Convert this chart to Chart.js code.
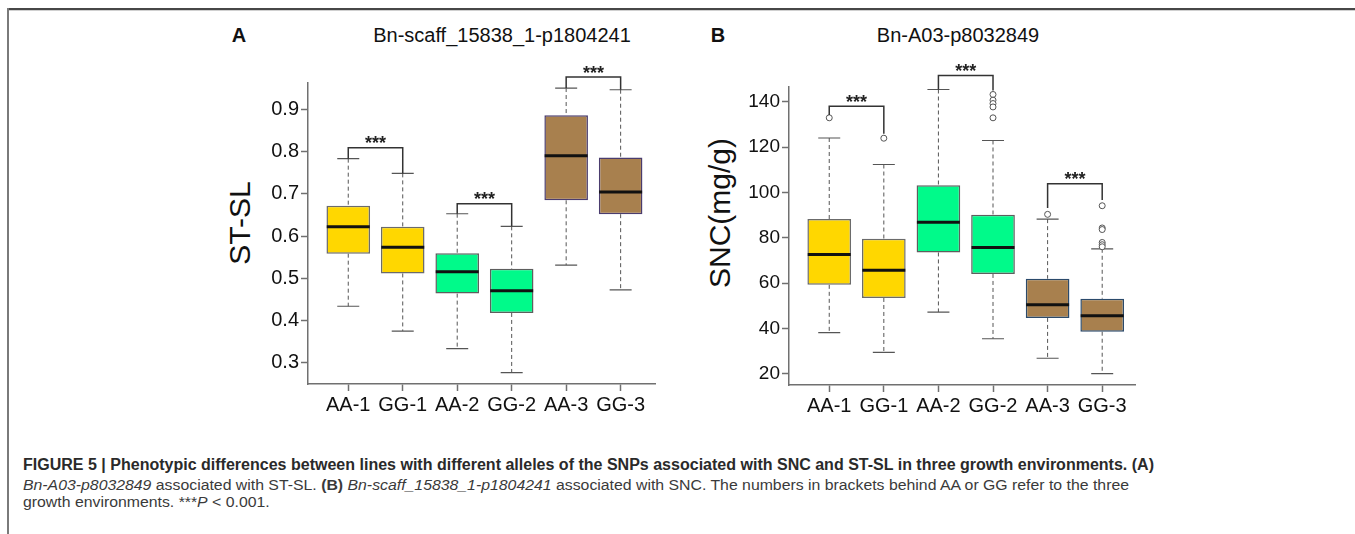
<!DOCTYPE html>
<html><head><meta charset="utf-8">
<script src="https://cdn.jsdelivr.net/npm/chart.js@4.4.0/dist/chart.umd.min.js"></script>
<style>
html,body{margin:0;padding:0;background:#fff;width:1355px;height:534px;overflow:hidden;font-family:"Liberation Sans",Arial,sans-serif;}
.abs{position:absolute;white-space:nowrap;}
.ctr{transform:translate(-50%,-50%);}
.ttl{font-size:20px;line-height:20px;color:#111;}
.ylab{font-size:30px;line-height:30px;color:#111;transform:translate(-50%,-50%) rotate(-90deg);}
.cap{left:23px;transform-origin:0 0;}
#cap1{font-size:16px;line-height:16px;font-weight:bold;color:#2a2a2a;top:457px;}
#cap2,#cap3{font-size:15.5px;line-height:16px;color:#3a3a3a;}
#cap2{top:477px;} #cap3{top:494px;}
canvas{position:absolute;}
</style></head><body>
<div class="abs" style="left:7px;top:8px;width:1348px;height:2px;background:#474747"></div>
<div class="abs" style="left:7px;top:10px;width:1348px;height:1px;background:#d0d0d0"></div>
<div class="abs" style="left:7px;top:8px;width:2px;height:526px;background:#7a7a7a"></div>

<div class="abs ctr ttl" style="left:239px;top:35px;font-weight:bold;">A</div>
<div class="abs ctr ttl" style="left:502px;top:35px;">Bn-scaff_15838_1-p1804241</div>
<div class="abs ctr ttl" style="left:718px;top:35px;font-weight:bold;">B</div>
<div class="abs ctr ttl" style="left:958px;top:35px;">Bn-A03-p8032849</div>
<div class="abs ylab" style="left:240px;top:223px;">ST-SL</div>
<div class="abs ylab" style="left:720px;top:213px;">SNC(mg/g)</div>

<canvas id="cA" width="500" height="430" style="left:180px;top:0px;"></canvas>
<canvas id="cB" width="500" height="430" style="left:660px;top:0px;"></canvas>

<div id="cap1" class="abs cap">FIGURE 5 | Phenotypic differences between lines with different alleles of the SNPs associated with SNC and ST-SL in three growth environments. (A)</div>
<div id="cap2" class="abs cap"><i>Bn-A03-p8032849</i> associated with ST-SL. <b>(B)</b> <i>Bn-scaff_15838_1-p1804241</i> associated with SNC. The numbers in brackets behind AA or GG refer to the three</div>
<div id="cap3" class="abs cap">growth environments. ***<i>P</i> &lt; 0.001.</div>

<script>
// ---------- data ----------
const categories = ['AA-1','GG-1','AA-2','GG-2','AA-3','GG-3'];

// Panel A: ST-SL
const yTicksA = [0.3,0.4,0.5,0.6,0.7,0.8,0.9];
const yTickLabelsA = ['0.3','0.4','0.5','0.6','0.7','0.8','0.9'];
const lowA  = [0.433,0.374,0.332,0.275,0.531,0.472];
const q1A   = [0.558,0.511,0.463,0.417,0.685,0.652];
const medA  = [0.622,0.573,0.515,0.470,0.791,0.705];
const q3A   = [0.672,0.622,0.559,0.522,0.887,0.787];
const highA = [0.784,0.749,0.653,0.623,0.952,0.948];
const outliersA = [[],[],[],[],[],[]];
const pairsA = [[1,2],[3,4],[5,6]];
const bracketTopA = [0.810,0.677,0.978];
const bracketLegsA = [[0.784,0.749],[0.653,0.623],[0.952,0.948]];
const sigLabelsA = ['***','***','***'];

// Panel B: SNC(mg/g)
const yTicksB = [20,40,60,80,100,120,140];
const yTickLabelsB = ['20','40','60','80','100','120','140'];
const lowB  = [38.1,29.4,47.2,35.4,26.8,20.0];
const q1B   = [59.2,53.4,73.5,64.0,44.6,38.5];
const medB  = [72.6,65.6,86.8,75.7,50.4,45.6];
const q3B   = [88.2,79.5,103.1,90.1,61.9,53.1];
const highB = [124.0,112.3,145.4,122.9,88.2,75.1];
const outliersB = [[132.9],[123.9],[],[143.2,140.7,139.2,137.7,132.9],[90.3],[94.1,84.3,83.6,77.9,76.9,76.0]];
const pairsB = [[1,2],[3,4],[5,6]];
const bracketTopB = [138.0,151.6,103.8];
const bracketLegsB = [[134.1,125.9],[145.4,145.0],[93.1,96.6]];
const sigLabelsB = ['***','***','***'];

// ---------- styles ----------
const FONT = '"Liberation Sans", Arial, sans-serif';
Chart.defaults.font.family = FONT;
const AXIS = '#707070';
const fillCols = ['#FFD700','#FFD700','#00FA8A','#00FA8A','#A8804E','#A8804E'];

const starsPlugin = {
  id: 'stars',
  afterDatasetsDraw(chart, args, o) {
    const {ctx} = chart; const x = chart.scales.x, y = chart.scales.y;
    ctx.save();
    ctx.font = 'bold 18px ' + FONT; ctx.fillStyle = '#222';
    ctx.textAlign = 'center'; ctx.textBaseline = 'alphabetic';
    o.pairs.forEach((p, k) => {
      const cx = (x.getPixelForValue(p[0]) + x.getPixelForValue(p[1])) / 2;
      const cy = y.getPixelForValue(o.top[k]) - 9;
      ctx.fillText(o.labels[k], cx, cy + 10.5);
    });
    ctx.restore();
  }
};

function makeChart(id, d) {
  const xs = categories.map((_, i) => i + 1);
  const boxData = xs.map((x, i) => ({x, y: [d.q1[i], d.q3[i]]}));
  const whisk = [];
  xs.forEach((x, i) => whisk.push({x, y: d.high[i]}, {x, y: d.q3[i]}, {x, y: null}, {x, y: d.q1[i]}, {x, y: d.low[i]}, {x, y: null}));
  const caps = xs.flatMap((x, i) => [{x, y: d.high[i]}, {x, y: d.low[i]}]);
  const meds = xs.map((x, i) => ({x, y: d.med[i]}));
  const outs = xs.flatMap((x, i) => d.out[i].map(v => ({x, y: v})));
  const br = [];
  d.pairs.forEach((p, k) => br.push({x: p[0], y: d.legs[k][0]}, {x: p[0], y: d.top[k]}, {x: p[1], y: d.top[k]}, {x: p[1], y: d.legs[k][1]}, {x: p[1], y: null}));

  return new Chart(document.getElementById(id), {
    type: 'bar',
    data: { datasets: [
      { type: 'line', data: whisk, order: 6, borderColor: '#555', borderWidth: 1, borderDash: [4, 3], pointRadius: 0, spanGaps: false, fill: false, tension: 0 },
      { type: 'bar', data: boxData, order: 5, backgroundColor: fillCols, borderColor: d.borderCols, borderWidth: 1.5, borderSkipped: false, barPercentage: 0.8, categoryPercentage: 1 },
      { type: 'scatter', data: meds, order: 4, pointStyle: 'line', pointRadius: 21.5, pointBorderWidth: 3, pointBorderColor: '#111', showLine: false },
      { type: 'scatter', data: caps, order: 3, pointStyle: 'line', pointRadius: 11, pointBorderWidth: 1.2, pointBorderColor: '#555', showLine: false },
      { type: 'scatter', data: outs, order: 2, pointStyle: 'circle', pointRadius: 3, pointBorderWidth: 1, pointBorderColor: '#555', pointBackgroundColor: '#fff', showLine: false, clip: false },
      { type: 'line', data: br, order: 1, borderColor: '#333', borderWidth: 1.5, pointRadius: 0, spanGaps: false, fill: false, tension: 0, clip: false }
    ]},
    options: {
      responsive: false, animation: false, events: [],
      layout: { padding: { top: d.padTop, right: d.padRight, left: 0, bottom: 0 } },
      plugins: { legend: { display: false }, tooltip: { enabled: false }, title: { display: false },
        stars: { pairs: d.pairs, top: d.top, labels: d.sig } },
      scales: {
        x: { type: 'linear', min: d.xmin, max: d.xmax, offset: false,
          grid: { display: true, drawOnChartArea: false, drawTicks: true, tickLength: 7, tickWidth: 1.5, tickColor: AXIS, offset: false },
          border: { display: true, color: AXIS, width: 1.5 },
          afterBuildTicks: s => { s.ticks = xs.map(v => ({value: v})); },
          ticks: { callback: (v, i) => categories[i], font: { size: 20 }, color: '#111', padding: 2, maxRotation: 0, autoSkip: false },
          afterFit: s => { s.height = d.xHeight; } },
        y: { type: 'linear', min: d.ymin, max: d.ymax,
          grid: { display: true, drawOnChartArea: false, drawTicks: true, tickLength: 7, tickWidth: 1.5, tickColor: AXIS },
          border: { display: true, color: AXIS, width: 1.5 },
          afterBuildTicks: s => { s.ticks = d.yTicks.map(v => ({value: v})); },
          ticks: { callback: (v, i) => d.yLabels[i], font: { size: d.yFont }, color: '#111', padding: 2, autoSkip: false },
          afterFit: s => { s.width = d.yWidth; } }
      }
    },
    plugins: [starsPlugin]
  });
}

makeChart('cA', { low: lowA, q1: q1A, med: medA, q3: q3A, high: highA, out: outliersA,
  pairs: pairsA, top: bracketTopA, legs: bracketLegsA, sig: sigLabelsA,
  yTicks: yTicksA, yLabels: yTickLabelsA, ymin: 0.248, ymax: 0.964, xmin: 0.261, xmax: 6.64,
  borderCols: ['#6b6b6b','#6b6b6b','#5e5e5e','#5e5e5e','#4a3c6e','#4a3c6e'],
  padTop: 83, padRight: 24, xHeight: 46, yWidth: 128, yFont: 20 });

makeChart('cB', { low: lowB, q1: q1B, med: medB, q3: q3B, high: highB, out: outliersB,
  pairs: pairsB, top: bracketTopB, legs: bracketLegsB, sig: sigLabelsB,
  yTicks: yTicksB, yLabels: yTickLabelsB, ymin: 15.0, ymax: 146.5, xmin: 0.263, xmax: 6.61,
  borderCols: ['#6b6b6b','#6b6b6b','#5e5e5e','#5e5e5e','#2b4a6b','#2b4a6b'],
  padTop: 87, padRight: 24, xHeight: 45, yWidth: 129, yFont: 19 });

function fitCaption() {
  const c1 = document.getElementById('cap1'), c2 = document.getElementById('cap2'), c3 = document.getElementById('cap3');
  c1.style.transform = 'none'; c2.style.transform = 'none'; c3.style.transform = 'none';
  const s1 = 1131 / c1.getBoundingClientRect().width;
  const s2 = 1106 / c2.getBoundingClientRect().width;
  c1.style.transform = 'scaleX(' + s1 + ')';
  c2.style.transform = 'scaleX(' + s2 + ')';
  c3.style.transform = 'scaleX(' + s2 + ')';
}
fitCaption();
if (document.fonts && document.fonts.ready) document.fonts.ready.then(fitCaption);
</script>
</body></html>
